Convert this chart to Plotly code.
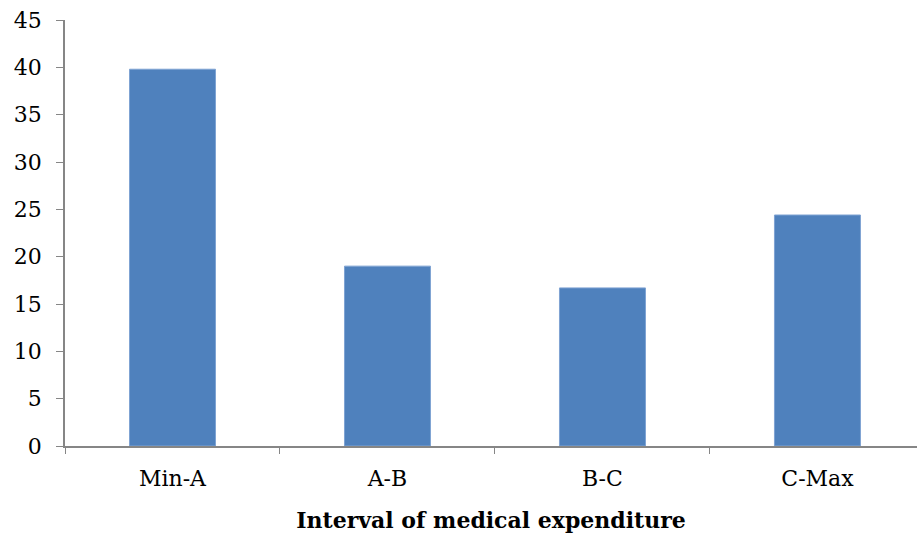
import plotly.graph_objects as go

# Share of households by interval of medical expenditure
categories = ["Min-A", "A-B", "B-C", "C-Max"]
values = [39.8, 19.0, 16.7, 24.4]
y_ticks = [0, 5, 10, 15, 20, 25, 30, 35, 40, 45]

AXIS_GREY = "#868686"
FONT = "DejaVu Serif"

fig = go.Figure(
    go.Bar(
        x=categories,
        y=values,
        width=0.4,
        marker=dict(color="#4F81BD", line=dict(color="#7FA3D3", width=1)),
    )
)

fig.update_layout(
    width=917,
    height=536,
    margin=dict(l=65, r=0, t=20, b=90),
    plot_bgcolor="white",
    paper_bgcolor="white",
    showlegend=False,
    font=dict(family=FONT, size=22, color="black"),
)

fig.update_xaxes(
    type="category",
    range=[-0.5, 3.463],
    tickson="boundaries",
    ticks="outside",
    ticklen=6,
    tickcolor=AXIS_GREY,
    showline=True,
    linecolor=AXIS_GREY,
    linewidth=1.5,
    showgrid=False,
    tickfont=dict(family=FONT, size=22),
    ticklabelstandoff=12,
    title=dict(
        text="<b>Interval of medical expenditure</b>",
        font=dict(family=FONT, size=22),
        standoff=22,
    ),
)

fig.update_yaxes(
    range=[0, 45],
    tickvals=y_ticks,
    ticks="outside",
    ticklen=7,
    tickcolor=AXIS_GREY,
    showline=True,
    linecolor=AXIS_GREY,
    linewidth=1.5,
    showgrid=False,
    zeroline=False,
    tickfont=dict(family=FONT, size=22),
    ticklabelstandoff=10,
)

fig.write_html("out.html")
